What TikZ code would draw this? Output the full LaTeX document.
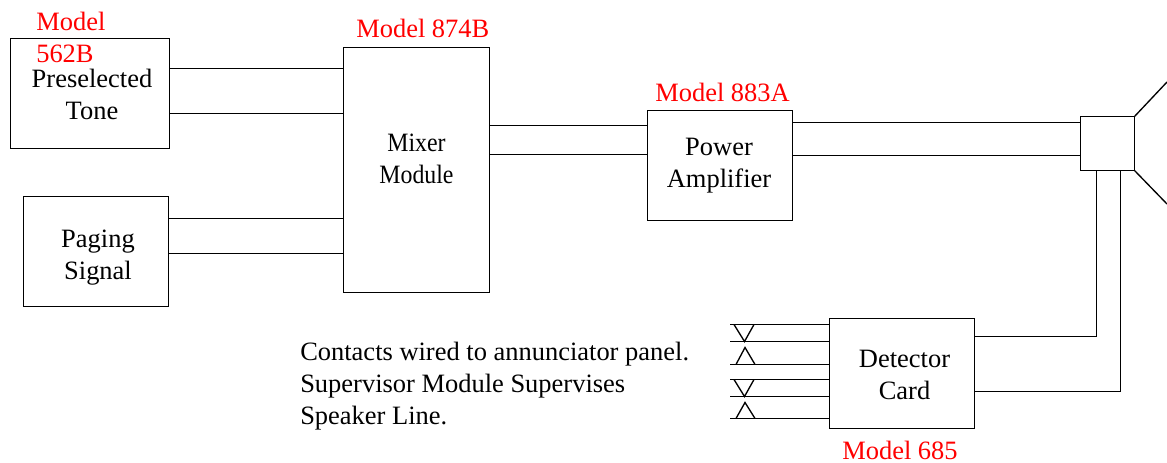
\documentclass[tikz,border=0pt]{standalone}
\usepackage{graphicx}
\usepackage{fontspec}
\setmainfont{Liberation Serif}
\tikzset{
  x=0.75pt,y=-0.75pt,
  blockbox/.style={draw,line width=1pt,anchor=north west,inner sep=0pt,outer sep=0pt},
  wire/.style={line width=1pt},
  lbl/.style={font=\fontsize{19.85pt}{24pt}\selectfont,inner sep=0pt,anchor=base},
  lblleft/.style={font=\fontsize{19.85pt}{24pt}\selectfont,inner sep=0pt,anchor=base west},
  modelred/.style={font=\fontsize{19.85pt}{24pt}\selectfont,text=red,inner sep=0pt,anchor=base west}
}
\newcommand{\blk}[5]{\node[blockbox,minimum width=#4*0.75pt,minimum height=#5*0.75pt] (#1) at (#2,#3) {};}
\begin{document}
\begin{tikzpicture}
\useasboundingbox (0,0) rectangle (1167,463);
\blk{tone}{10.5}{38.5}{159}{110}
\blk{paging}{23.5}{196.5}{145}{110}
\blk{mixer}{343.5}{47.5}{146}{245}
\blk{amp}{647.5}{110.5}{145}{110}
\blk{det}{829.5}{318.5}{145}{110}
\blk{spk}{1080.5}{116.5}{54}{54}
% text
\node[lbl] (t1) at (92,88) {Preselected};
\node[lbl] (t2) at (92,120) {Tone};
\node[lbl] (p1) at (98,248) {Paging};
\node[lbl] (p2) at (98,280) {Signal};
\node[lbl] (m1) at (416.5,152) {\scalebox{0.9}[1]{Mixer}};
\node[lbl] (m2) at (416.5,184) {\scalebox{0.9}[1]{Module}};
\node[lbl] (a1) at (719,156) {Power};
\node[lbl] (a2) at (719,188) {Amplifier};
\node[lbl] (d1) at (904.5,367) {Detector};
\node[lbl] (d2) at (904.5,399) {Card};
\node[modelred] (mt1) at (36,31) {Model};
\node[modelred] (mt2) at (36,63) {562B};
\node[modelred] (mm) at (356,38) {Model 874B};
\node[modelred] (ma) at (655,102) {Model 883A};
\node[modelred] (md) at (842,459) {Model 685};
\node[lblleft] (c1) at (300,360) {Contacts wired to annunciator panel.};
\node[lblleft] (c2) at (300,392) {Supervisor Module Supervises};
\node[lblleft] (c3) at (300,424) {Speaker Line.};
% connectors
\draw[wire] (tone.east |- 0,68.5) -- (mixer.west |- 0,68.5);
\draw[wire] (tone.east |- 0,113.5) -- (mixer.west |- 0,113.5);
\draw[wire] (paging.east |- 0,218.5) -- (mixer.west |- 0,218.5);
\draw[wire] (paging.east |- 0,253.5) -- (mixer.west |- 0,253.5);
\draw[wire] (mixer.east |- 0,125.5) -- (amp.west |- 0,125.5);
\draw[wire] (mixer.east |- 0,154.5) -- (amp.west |- 0,154.5);
\draw[wire] (amp.east |- 0,122.5) -- (spk.west |- 0,122.5);
\draw[wire] (amp.east |- 0,155.5) -- (spk.west |- 0,155.5);
\draw[wire] (det.east |- 0,336.5) -| (spk.south -| 1096.5,0);
\draw[wire] (det.east |- 0,391.5) -| (spk.south -| 1120.5,0);
% horn
\coordinate (h1) at (1167,82);
\coordinate (h2) at (1167,204);
\draw[wire] (spk.north east) -- (h1);
\draw[wire] (spk.south east) -- (h2);
% contacts
\foreach \y/\n in {324.5/a,341.5/b,364.5/c,379.5/d,396.5/e,418.5/f}{
  \coordinate (w\n) at (730,\y);
  \draw[wire] (w\n) -- (det.west |- w\n);
}
\draw[wire] (734,324.5) -- (744.5,341.5) -- (754,324.5);
\draw[wire] (736,364.5) -- (745,347.5) -- (755,364.5);
\draw[wire] (734,379.5) -- (744.5,396.5) -- (754,379.5);
\draw[wire] (736,418.5) -- (745,402.5) -- (755,418.5);
\end{tikzpicture}
\end{document}
